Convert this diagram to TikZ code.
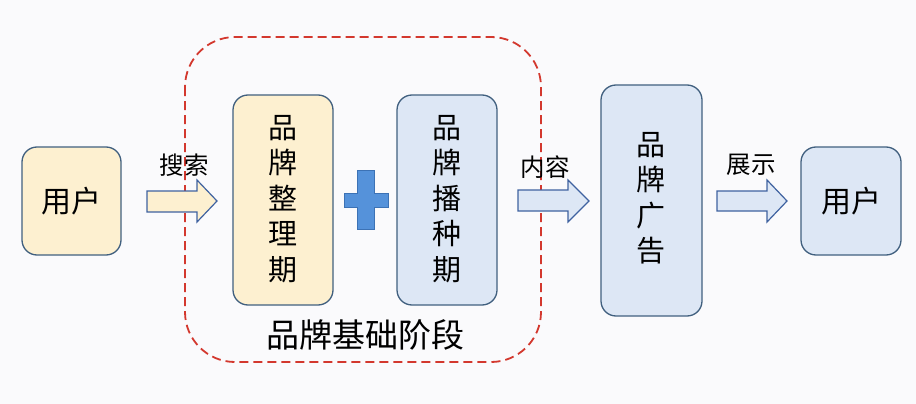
\documentclass[tikz,border=0pt]{standalone}
\usepackage{fontspec}
\setmainfont{Noto Sans CJK SC}
\definecolor{bgc}{HTML}{FAFAFC}
\definecolor{yfill}{HTML}{FDF0D0}
\definecolor{bfill}{HTML}{DDE7F5}
\definecolor{edge}{HTML}{41607F}
\definecolor{aedge}{HTML}{3F62A0}
\definecolor{dred}{HTML}{D3382E}
\definecolor{pfill}{HTML}{5592DA}
\definecolor{pedge}{HTML}{3C72B5}
\tikzset{
  boxy/.style={draw=edge, line width=1.3pt, fill=yfill, rounded corners=15pt},
  boxb/.style={draw=edge, line width=1.3pt, fill=bfill, rounded corners=15pt},
  blockarrow/.style={draw=aedge, line width=1.2pt, line join=miter},
  lbl/.style={font=\fontsize{24.5}{26}\selectfont, inner sep=0pt},
  vtext/.style={font=\fontsize{29}{35.5}\selectfont, align=center, inner sep=0pt},
}
\begin{document}
\begin{tikzpicture}[x=1pt,y=-1pt]
\fill[bgc] (0,0) rectangle (916,404);
\useasboundingbox (0,0) rectangle (916,404);
% dashed group frame
\draw[dred, line width=1.8pt, dash pattern=on 9pt off 5pt, rounded corners=50pt] (185,37) rectangle (541,362);
% boxes
\draw[boxy] (22,147) rectangle (121,255);
\node[font=\fontsize{30}{32}\selectfont, inner sep=0pt] (u1) at (71.5,201) {用户};
\draw[boxy] (233,95) rectangle (333,305);
\node[vtext] (p1) at (283,199) {品\\牌\\整\\理\\期};
\draw[boxb] (397,95) rectangle (497,305);
\node[vtext] (p2) at (447,199) {品\\牌\\播\\种\\期};
\draw[boxb] (601,85) rectangle (702,316);
\node[vtext] (p3) at (651,198) {品\\牌\\广\\告};
\draw[boxb] (801,147) rectangle (901,255);
\node[font=\fontsize{30}{32}\selectfont, inner sep=0pt] (u2) at (851,201) {用户};
% plus
\draw[fill=pfill, draw=pedge, line width=1pt]
  (357,170) -- (374,170) -- (374,193) -- (388,193) -- (388,207) -- (374,207)
  -- (374,229) -- (357,229) -- (357,207) -- (344,207) -- (344,193) -- (357,193) -- cycle;
% arrows
\draw[blockarrow, fill=yfill] (147,191) -- (197,191) -- (197,180) -- (217,201) -- (197,222) -- (197,212) -- (147,212) -- cycle;
\draw[blockarrow, fill=bfill] (518,190) -- (568,190) -- (568,180) -- (589,201) -- (568,222) -- (568,211) -- (518,211) -- cycle;
\draw[blockarrow, fill=bfill] (717,191) -- (767,191) -- (767,180) -- (787,201) -- (767,222) -- (767,211) -- (717,211) -- cycle;
% labels
\node[lbl] (l1) at (184,165) {搜索};
\node[lbl] (l2) at (545,167) {内容};
\node[lbl] (l3) at (751,165) {展示};
\node[font=\fontsize{33}{35}\selectfont, inner sep=0pt] (g) at (365,335) {品牌基础阶段};
\end{tikzpicture}
\end{document}
